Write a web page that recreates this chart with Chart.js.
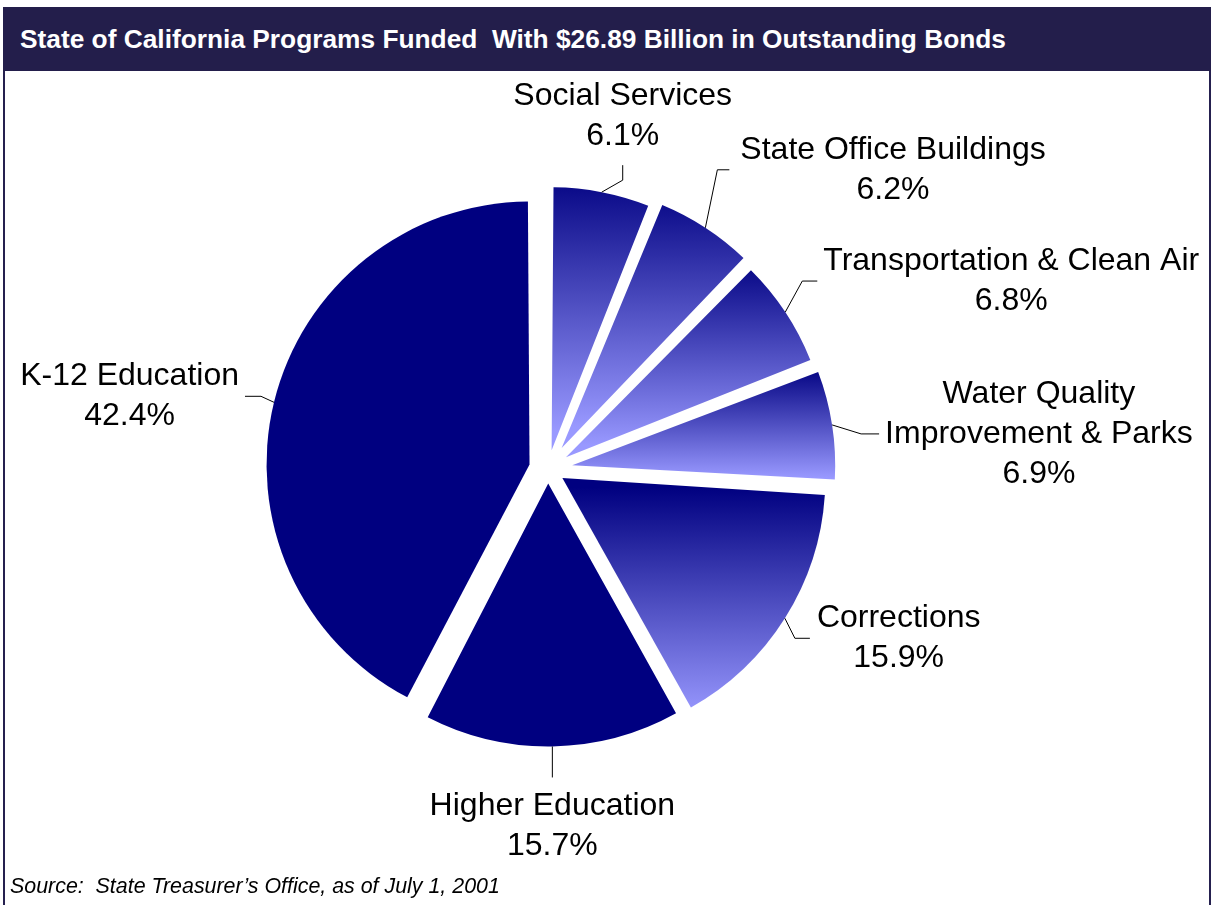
<!DOCTYPE html>
<html>
<head>
<meta charset="utf-8">
<script src="https://cdn.jsdelivr.net/npm/chart.js@4.4.1/dist/chart.umd.min.js"></script>
<style>
  html, body { margin: 0; padding: 0; background: #fff; }
  #page { position: relative; width: 1215px; height: 905px; overflow: hidden;
          font-family: "Liberation Sans", Arial, sans-serif; }
  #frame { position: absolute; left: 3px; top: 7px; width: 1208px; height: 1000px;
           border: 2px solid #25204f; box-sizing: border-box; }
  #header { position: absolute; left: 3px; top: 7px; width: 1208px; height: 64px;
            background: #231e4b; color: #fff; font-weight: bold; font-size: 26.3px;
            line-height: 64px; padding-left: 17px; box-sizing: border-box; white-space: pre; }
  #source { position: absolute; left: 10px; top: 876px; font-style: italic; font-size: 21.4px;
            line-height: 21px; color: #000; white-space: pre; }
  canvas { position: absolute; left: 0; top: 0; }
</style>
</head>
<body>
<div id="page">
  <div id="frame"></div>
  <div id="header">State of California Programs Funded  With $26.89 Billion in Outstanding Bonds</div>
  <canvas id="chart" width="1215" height="905"></canvas>
  <div id="source">Source:  State Treasurer’s Office, as of July 1, 2001</div>
</div>
<script>
// Programs, clockwise from 12 o'clock
const categories = ['Social Services', 'State Office Buildings', 'Transportation & Clean Air',
  'Water Quality Improvement & Parks', 'Corrections', 'Higher Education', 'K-12 Education'];
// Share of outstanding bonds (%)
const shares = [6.1, 6.2, 6.8, 6.9, 15.9, 15.7, 42.4];
// Label text lines (the percentage is appended from shares)
const labelLines = [
  ['Social Services'],
  ['State Office Buildings'],
  ['Transportation & Clean Air'],
  ['Water Quality', 'Improvement & Parks'],
  ['Corrections'],
  ['Higher Education'],
  ['K-12 Education']
];

// ---- styling / layout ----
const PIE_RADIUS = 263;
const explode = [19, 25, 21.5, 24.5, 17, 14.5, 19];   // px each slice is pulled out
const NAVY = '#000080';
const LIGHT = '#9999ff';
const gradientSlices = [true, true, true, true, true, false, false];
const LABEL_FONT = '32px "Liberation Sans", Arial, sans-serif';
const LINE_HEIGHT = 40;
const VERT_GAP = 29;
// leader lines: elbow and tail relative to the point on the slice rim
const leaders = [
  { elbow: [21, -12], tail: [0, -15], side: 'top' },
  { elbow: [12, -58], tail: [12, 0], side: 'right', gap: 11 },
  { elbow: [17, -31], tail: [15, 0], side: 'right', gap: 6 },
  { elbow: [29, 9],   tail: [18, 0], side: 'right', gap: 6 },
  { elbow: [10, 20],  tail: [15, 0], side: 'right', gap: 7 },
  { elbow: [0, 31],   tail: [0, 0],  side: 'bottom' },
  { elbow: [-13, -6], tail: [-16, 0], side: 'left', gap: 6 }
];

const total = shares.reduce((a, b) => a + b, 0);

// vertical dark-to-light fill spanning each slice's own height
function sliceFill(context) {
  const i = context.dataIndex;
  if (context.type !== 'data' || !gradientSlices[i]) return NAVY;
  const chart = context.chart;
  const area = chart.chartArea;
  if (!area) return NAVY;
  const cx = (area.left + area.right) / 2;
  const cy = (area.top + area.bottom) / 2;
  const before = shares.slice(0, i).reduce((a, b) => a + b, 0);
  const a0 = -Math.PI / 2 + 2 * Math.PI * before / total;
  const a1 = a0 + 2 * Math.PI * shares[i] / total;
  const mid = (a0 + a1) / 2;
  const ay = cy + explode[i] * Math.sin(mid);
  let ymin = ay, ymax = ay;
  for (let k = 0; k <= 60; k++) {
    const a = a0 + (a1 - a0) * k / 60;
    const y = ay + PIE_RADIUS * Math.sin(a);
    ymin = Math.min(ymin, y);
    ymax = Math.max(ymax, y);
  }
  const g = chart.ctx.createLinearGradient(0, ymin, 0, ymax);
  g.addColorStop(0, NAVY);
  g.addColorStop(1, LIGHT);
  return g;
}

// Chart.js grows small exploded arcs; keep every slice at the same radius
const evenRadius = {
  id: 'evenRadius',
  afterDatasetUpdate(chart, args) {
    args.meta.data.forEach(arc => {
      const off = (arc.options.offset || 0) / 4;
      const fix = 1 - Math.sin(Math.min(Math.PI, arc.circumference));
      arc.outerRadius = PIE_RADIUS - off * fix;
    });
  }
};

const sliceLabels = {
  id: 'sliceLabels',
  afterDatasetsDraw(chart) {
    const ctx = chart.ctx;
    const meta = chart.getDatasetMeta(0);
    ctx.save();
    ctx.font = LABEL_FONT;
    ctx.fillStyle = '#000';
    ctx.strokeStyle = '#000';
    ctx.lineWidth = 1;
    meta.data.forEach((arc, i) => {
      const { x, y, startAngle, endAngle } = arc.getProps(['x', 'y', 'startAngle', 'endAngle']);
      const mid = (startAngle + endAngle) / 2;
      const r = explode[i] + PIE_RADIUS;
      const p0 = [x + r * Math.cos(mid), y + r * Math.sin(mid)];
      const L = leaders[i];
      const p1 = [p0[0] + L.elbow[0], p0[1] + L.elbow[1]];
      const p2 = [p1[0] + L.tail[0], p1[1] + L.tail[1]];
      ctx.beginPath();
      ctx.moveTo(p0[0], p0[1]);
      ctx.lineTo(p1[0], p1[1]);
      ctx.lineTo(p2[0], p2[1]);
      ctx.stroke();

      const lines = labelLines[i].concat([shares[i].toFixed(1) + '%']);
      const w = Math.max(...lines.map(t => ctx.measureText(t).width));
      const n = lines.length;
      let bx, firstY;
      if (L.side === 'right') {
        bx = p2[0] + L.gap + w / 2; firstY = p2[1] - (n - 1) * LINE_HEIGHT / 2;
      } else if (L.side === 'left') {
        bx = p2[0] - L.gap - w / 2; firstY = p2[1] - (n - 1) * LINE_HEIGHT / 2;
      } else if (L.side === 'top') {
        bx = p2[0]; firstY = p2[1] - VERT_GAP - (n - 1) * LINE_HEIGHT;
      } else {
        bx = p2[0]; firstY = p2[1] + VERT_GAP;
      }
      ctx.textAlign = 'center';
      ctx.textBaseline = 'middle';
      lines.forEach((t, k) => ctx.fillText(t, bx, firstY + k * LINE_HEIGHT));
    });
    ctx.restore();
  }
};

new Chart(document.getElementById('chart'), {
  type: 'pie',
  data: {
    labels: categories,
    datasets: [{
      data: shares,
      backgroundColor: sliceFill,
      borderWidth: 0,
      offset: explode.map(v => v * 4),
      hoverOffset: 0
    }]
  },
  options: {
    responsive: false,
    animation: false,
    radius: PIE_RADIUS,
    layout: { padding: { left: 0, right: 119, top: 33, bottom: 0 } },
    events: [],
    plugins: { legend: { display: false }, tooltip: { enabled: false }, title: { display: false } }
  },
  plugins: [evenRadius, sliceLabels]
});
</script>
</body>
</html>
